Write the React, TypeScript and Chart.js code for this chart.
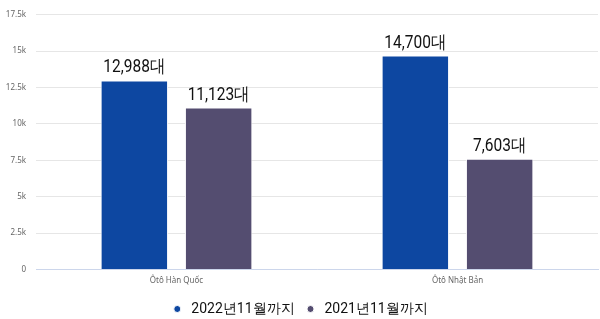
import React, { useEffect, useRef } from "react";
import { Chart, registerables } from "chart.js";

Chart.register(...registerables);

const categories = ["Ôtô Hàn Quốc", "Ôtô Nhật Bản"];
const seriesNames = ["2022년11월까지", "2021년11월까지"];
const series2022 = [12988, 14700];
const series2021 = [11123, 7603];
const yTicks = [0, 2500, 5000, 7500, 10000, 12500, 15000, 17500];

const colors = ["rgb(13,71,161)", "rgb(84,77,112)"];

const labelPlugin = {
  id: "barLabels",
  afterDatasetsDraw(chart: any) {
    const ctx = chart.ctx;
    chart.data.datasets.forEach((ds: any, i: number) => {
      const meta = chart.getDatasetMeta(i);
      meta.data.forEach((bar: any, j: number) => {
        const v = ds.data[j] as number;
        ctx.save();
        ctx.translate(bar.x, bar.y - 8);
        ctx.scale(0.86, 1);
        ctx.font = "18px 'Roboto', sans-serif";
        ctx.fillStyle = "#111";
        ctx.textAlign = "center";
        ctx.textBaseline = "alphabetic";
        ctx.fillText(v.toLocaleString("en-US") + "대", 0, 0);
        ctx.restore();
      });
    });
  },
};

export default function App() {
  const ref = useRef<HTMLCanvasElement>(null);
  useEffect(() => {
    document.body.style.margin = "0";
    const chart = new Chart(ref.current!, {
      type: "bar",
      data: {
        labels: categories,
        datasets: [
          { label: seriesNames[0], data: series2022, backgroundColor: colors[0], borderColor: "#fff", borderWidth: 1, categoryPercentage: 0.6, barPercentage: 0.8 },
          { label: seriesNames[1], data: series2021, backgroundColor: colors[1], borderColor: "#fff", borderWidth: 1, categoryPercentage: 0.6, barPercentage: 0.8 },
        ],
      },
      options: {
        animation: false,
        responsive: false,
        maintainAspectRatio: false,
        layout: { padding: { top: 7, right: 2, left: 0, bottom: -7 } },
        plugins: {
          legend: {
            position: "bottom",
            labels: {
              usePointStyle: true,
              pointStyle: "circle",
              boxWidth: 14,
              boxHeight: 5,
              padding: 9,
              color: "#111",
              font: { size: 14, family: "'Roboto', sans-serif" },
            },
          },
          tooltip: { enabled: false },
        },
        scales: {
          x: {
            grid: { display: false, drawTicks: false },
            border: { color: "#ccd6eb" },
            ticks: { color: "#666", font: { size: 8, family: "'Noto Sans', sans-serif" }, padding: 7 },
          },
          y: {
            min: 0,
            max: 17500,
            afterBuildTicks: (axis: any) => {
              axis.ticks = yTicks.map((v) => ({ value: v }));
            },
            afterFit: (axis: any) => {
              axis.width = 36;
            },
            grid: { color: "#e6e6e6", drawTicks: false },
            border: { display: false },
            ticks: {
              color: "#666",
              font: { size: 8, family: "'Noto Sans', sans-serif" },
              padding: 10,
              callback: (v: any) => (v === 0 ? "0" : v / 1000 + "k"),
            },
          },
        },
      },
      plugins: [labelPlugin],
    });
    return () => chart.destroy();
  }, []);
  return <canvas ref={ref} width={600} height={319} style={{ display: "block" }} />;
}
